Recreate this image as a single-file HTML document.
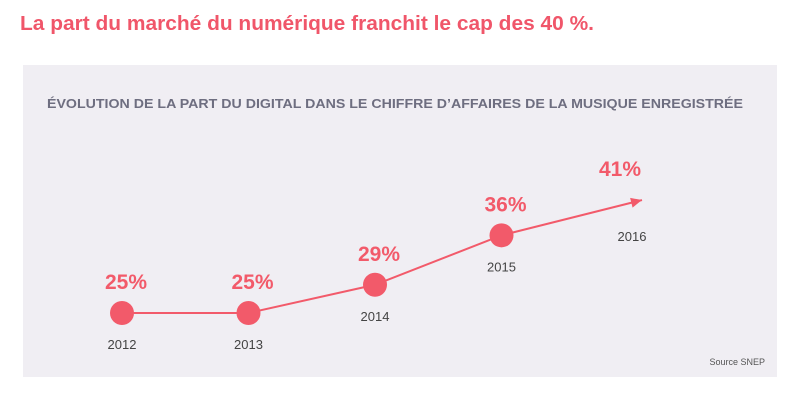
<!DOCTYPE html>
<html><head><meta charset="utf-8"><style>
body{margin:0;background:#fff;width:799px;height:411px;overflow:hidden;font-family:"Liberation Sans",sans-serif}
</style></head><body>
<svg width="799" height="411">
<text x="20" y="30" font-size="20" font-weight="bold" fill="#f0566a" textLength="574" lengthAdjust="spacingAndGlyphs">La part du marché du numérique franchit le cap des 40 %.</text>
<rect x="23" y="65" width="754" height="312" fill="#f0eef3"/>
<text x="47" y="108" font-size="13" font-weight="bold" fill="#6e6e80" textLength="696" lengthAdjust="spacingAndGlyphs">ÉVOLUTION DE LA PART DU DIGITAL DANS LE CHIFFRE D’AFFAIRES DE LA MUSIQUE ENREGISTRÉE</text>
<text x="765" y="365" font-size="9" fill="#555" text-anchor="end">Source SNEP</text>
<g id="marks"></g>
</svg>
<script>
const years=["2012","2013","2014","2015","2016"];
const values=[25,25,29,36,41];
const labels=["25%","25%","29%","36%","41%"];
const NS="http://www.w3.org/2000/svg";
const g=document.getElementById('marks');
function xs(i){return 122+i*126.5;}
function ys(v){return 313-(v-25)*7.06;}
function mk(t,a){const e=document.createElementNS(NS,t);for(const k in a)e.setAttribute(k,a[k]);g.appendChild(e);return e;}
const col="#f25a6a";
const last=values.length-1;
let pts=values.map((v,i)=>[i===last?xs(i)+14:xs(i),ys(v)]);
const line=mk('polyline',{points:pts.map(p=>p.join(',')).join(' '),fill:'none',stroke:col,'stroke-width':2});


const [ax,ay]=pts[last],[bx,by]=pts[last-1];
const ang=Math.atan2(ay-by,ax-bx);
const ah=mk('polygon',{points:[[ax,ay],[ax-11*Math.cos(ang)+5*Math.sin(ang),ay-11*Math.sin(ang)-5*Math.cos(ang)],[ax-11*Math.cos(ang)-5*Math.sin(ang),ay-11*Math.sin(ang)+5*Math.cos(ang)]].map(p=>p.join(',')).join(' '),fill:col});


values.forEach((v,i)=>{
  const x=xs(i),y=ys(v);
  if(i<last){
    const c=mk('circle',{cx:x,cy:y,r:12,fill:col});
    
    
  }
  const lx=i===last?x-8:x+4;
  const t=mk('text',{x:lx,y:y-24,'font-size':21,'font-weight':'bold',fill:col,'text-anchor':'middle'});
  t.textContent=labels[i];
  
  
  const yl=mk('text',{x:i===last?x+4:x,y:i===last?y+41:y+36,'font-size':13,fill:'#444','text-anchor':'middle'});
  yl.textContent=years[i];
  
  
});
</script>
</body></html>
